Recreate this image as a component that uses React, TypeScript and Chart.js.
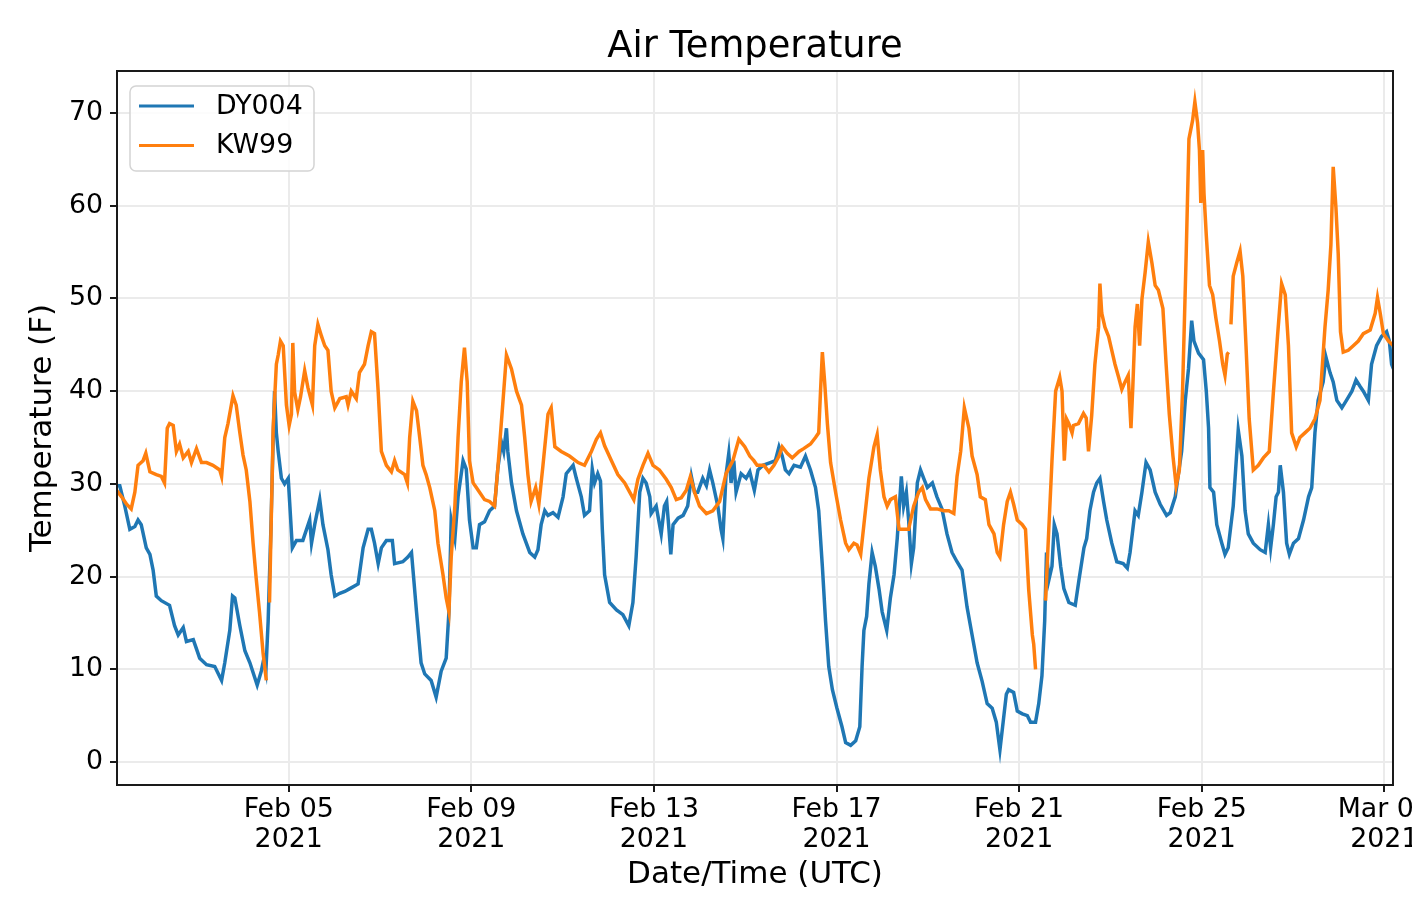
import React, { useEffect, useRef } from "react";
import { Chart, registerables } from "chart.js";

Chart.register(...registerables);

// ---------- data (days since 2021-02-01 00:00 UTC, temperature in °F) ----------
const chartTitle = "Air Temperature";
const xAxisTitle = "Date/Time (UTC)";
const yAxisTitle = "Temperature (F)";
const seriesNames = ["DY004", "KW99"];
const seriesColors = ["#1f77b4", "#ff7f0e"];

const dyDays = [
  0.23, 0.3, 0.41, 0.52, 0.63, 0.7, 0.77, 0.88, 0.96, 1.03, 1.1, 1.21, 1.39, 1.5, 1.58, 1.69, 1.76, 1.91, 2.05, 2.2,
  2.38, 2.53, 2.6, 2.71, 2.77, 2.82, 2.93, 3.04, 3.15, 3.31, 3.4, 3.45, 3.5, 3.55, 3.61, 3.66, 3.69, 3.73, 3.77, 3.84,
  3.91, 3.99, 4.02, 4.08, 4.17, 4.31, 4.46, 4.5, 4.57, 4.68, 4.75, 4.86, 4.93, 5.01, 5.12, 5.23, 5.34, 5.52, 5.63, 5.74,
  5.81, 5.88, 5.96, 6.03, 6.14, 6.27, 6.32, 6.5, 6.61, 6.69, 6.74, 6.8, 6.9, 6.98, 7.12, 7.23, 7.34, 7.45, 7.51, 7.56,
  7.64, 7.71, 7.82, 7.89, 7.96, 8.04, 8.11, 8.18, 8.29, 8.4, 8.51, 8.58, 8.66, 8.71, 8.77, 8.8, 8.88, 8.99, 9.13, 9.28,
  9.39, 9.46, 9.53, 9.61, 9.68, 9.79, 9.9, 10.01, 10.08, 10.23, 10.3, 10.41, 10.48, 10.59, 10.65, 10.7, 10.77, 10.83, 10.87, 10.92,
  11.03, 11.18, 11.32, 11.45, 11.54, 11.61, 11.69, 11.76, 11.83, 11.91, 11.94, 12.05, 12.16, 12.23, 12.28, 12.33, 12.37, 12.42, 12.53, 12.64,
  12.74, 12.82, 12.89, 12.96, 13.07, 13.15, 13.22, 13.29, 13.4, 13.47, 13.51, 13.58, 13.64, 13.69, 13.75, 13.8, 13.91, 14.02, 14.1, 14.2,
  14.28, 14.39, 14.55, 14.66, 14.74, 14.81, 14.88, 14.96, 15.07, 15.21, 15.32, 15.43, 15.54, 15.61, 15.69, 15.76, 15.83, 15.91, 16.01, 16.12,
  16.2, 16.31, 16.42, 16.51, 16.56, 16.6, 16.66, 16.71, 16.78, 16.85, 16.93, 17.0, 17.1, 17.18, 17.26, 17.33, 17.42, 17.47, 17.53, 17.58,
  17.64, 17.69, 17.77, 17.84, 17.91, 17.99, 18.1, 18.2, 18.31, 18.42, 18.53, 18.64, 18.75, 18.86, 18.97, 19.08, 19.19, 19.3, 19.41, 19.5,
  19.58, 19.65, 19.72, 19.77, 19.88, 19.96, 20.07, 20.18, 20.25, 20.36, 20.43, 20.5, 20.56, 20.6, 20.65, 20.72, 20.77, 20.83, 20.91, 20.98,
  21.09, 21.23, 21.31, 21.42, 21.48, 21.55, 21.63, 21.7, 21.77, 21.85, 21.92, 22.03, 22.14, 22.28, 22.37, 22.43, 22.54, 22.61, 22.69, 22.78,
  22.87, 22.98, 23.09, 23.23, 23.31, 23.42, 23.49, 23.56, 23.64, 23.71, 23.78, 23.83, 23.93, 24.04, 24.1, 24.15, 24.18, 24.26, 24.33, 24.44,
  24.51, 24.58, 24.69, 24.8, 24.88, 24.95, 25.02, 25.13, 25.28, 25.39, 25.46, 25.51, 25.57, 25.63, 25.68, 25.72, 25.79, 25.86, 25.92, 26.01,
  26.12, 26.23, 26.34, 26.41, 26.48, 26.55, 26.66, 26.72, 26.81, 26.88, 26.96, 27.07, 27.17, 27.29, 27.38, 27.47, 27.54, 27.65, 27.72, 27.83,
  27.94, 28.05, 28.11, 28.16, 28.2,
];
const dyTemps = [
  29.8, 29.8, 27.6, 25.1, 25.4, 26.1, 25.6, 23.1, 22.4, 20.7, 17.9, 17.4, 16.9, 14.7, 13.7, 14.5, 13.0, 13.2, 11.2, 10.5,
  10.3, 8.8, 10.7, 14.2, 17.9, 17.7, 14.7, 12.0, 10.7, 8.3, 9.8, 11.0, 9.8, 15.2, 25.1, 35.0, 40.0, 35.5, 33.5, 30.6,
  30.0, 30.6, 28.1, 23.1, 23.9, 23.9, 26.1, 23.6, 25.6, 28.3, 25.6, 22.9, 20.2, 17.9, 18.2, 18.4, 18.7, 19.2, 23.1, 25.1,
  25.1, 23.6, 21.4, 23.1, 23.9, 23.9, 21.4, 21.6, 22.1, 22.6, 19.7, 16.2, 10.7, 9.5, 8.8, 7.0, 9.8, 11.2, 16.2, 26.1,
  24.1, 28.6, 32.5, 31.6, 26.1, 23.1, 23.1, 25.6, 25.9, 27.1, 27.6, 31.6, 34.5, 33.5, 36.0, 33.5, 30.1, 27.1, 24.6, 22.6,
  22.1, 22.9, 25.6, 27.1, 26.6, 26.9, 26.4, 28.6, 31.1, 32.0, 30.6, 28.6, 26.6, 27.1, 31.6, 30.1, 31.1, 30.3, 25.1, 20.2,
  17.2, 16.4, 15.9, 14.7, 17.2, 22.1, 29.1, 30.6, 30.1, 28.6, 26.8, 27.6, 24.6, 27.6, 28.1, 25.1, 22.4, 25.6, 26.3, 26.6,
  27.6, 30.8, 29.1, 29.1, 30.6, 29.8, 31.5, 30.1, 27.6, 25.1, 24.1, 31.0, 33.3, 30.1, 32.5, 29.1, 31.1, 30.6, 31.3, 29.3,
  31.5, 32.0, 32.3, 32.5, 34.0, 33.0, 31.5, 31.1, 32.0, 31.8, 33.0, 31.5, 29.6, 27.1, 21.1, 15.2, 10.3, 7.8, 5.8, 3.8,
  2.1, 1.8, 2.3, 3.8, 10.3, 14.2, 15.7, 19.2, 22.6, 21.1, 18.7, 16.2, 14.2, 17.7, 20.2, 24.1, 30.8, 27.6, 29.1, 26.1,
  21.4, 23.1, 30.1, 31.5, 30.6, 29.6, 30.1, 28.6, 27.3, 24.6, 22.6, 21.6, 20.7, 16.7, 13.7, 10.7, 8.7, 6.3, 5.8, 4.3,
  1.3, 4.3, 7.3, 7.8, 7.5, 5.5, 5.2, 5.0, 4.3, 4.3, 6.3, 9.3, 15.2, 22.6, 19.6, 21.1, 25.6, 24.6, 21.1, 18.7,
  17.2, 16.9, 19.6, 23.1, 24.1, 27.1, 29.1, 30.1, 30.6, 28.1, 26.1, 23.6, 21.6, 21.4, 20.9, 22.6, 27.1, 26.6, 29.1, 32.3,
  31.5, 29.1, 27.8, 26.6, 26.9, 28.6, 31.1, 33.5, 39.0, 42.4, 47.6, 45.4, 44.1, 43.4, 40.0, 36.0, 29.6, 29.1, 25.6, 23.6,
  22.4, 23.1, 27.6, 35.8, 33.0, 27.1, 24.6, 23.6, 22.9, 22.6, 25.6, 23.1, 25.6, 28.6, 29.1, 32.0, 29.1, 23.6, 22.4, 23.6,
  24.1, 26.1, 28.6, 29.6, 35.5, 39.0, 41.0, 43.7, 42.0, 41.0, 39.0, 38.2, 39.0, 40.0, 41.2, 40.5, 40.0, 39.0, 42.9, 44.9,
  45.9, 46.4, 45.4, 42.9, 42.4,
];

const kwDays = [
  0.23, 0.34, 0.45, 0.55, 0.63, 0.7, 0.81, 0.87, 0.96, 1.1, 1.21, 1.28, 1.34, 1.39, 1.47, 1.54, 1.61, 1.69, 1.8, 1.87,
  1.98, 2.09, 2.2, 2.34, 2.49, 2.53, 2.6, 2.67, 2.78, 2.85, 2.93, 3.0, 3.07, 3.15, 3.22, 3.29, 3.36, 3.44, 3.51, 3.54,
  3.58, 3.66, 3.73, 3.77, 3.82, 3.88, 3.95, 4.01, 4.06, 4.09, 4.13, 4.2, 4.26, 4.35, 4.42, 4.52, 4.57, 4.64, 4.72, 4.79,
  4.86, 4.93, 5.01, 5.12, 5.26, 5.3, 5.37, 5.48, 5.55, 5.66, 5.74, 5.81, 5.88, 5.96, 6.03, 6.14, 6.25, 6.32, 6.39, 6.54,
  6.6, 6.65, 6.72, 6.8, 6.87, 6.94, 7.01, 7.09, 7.2, 7.27, 7.38, 7.45, 7.51, 7.56, 7.64, 7.71, 7.78, 7.85, 7.91, 7.96,
  8.04, 8.11, 8.18, 8.29, 8.4, 8.51, 8.58, 8.68, 8.77, 8.88, 8.99, 9.1, 9.17, 9.24, 9.31, 9.41, 9.48, 9.57, 9.68, 9.75,
  9.83, 9.97, 10.15, 10.34, 10.48, 10.63, 10.74, 10.83, 10.92, 11.07, 11.21, 11.36, 11.47, 11.56, 11.65, 11.76, 11.87, 11.98, 12.12, 12.27,
  12.38, 12.49, 12.6, 12.71, 12.8, 12.89, 13.0, 13.15, 13.29, 13.44, 13.58, 13.73, 13.86, 13.99, 14.1, 14.19, 14.26, 14.41, 14.52, 14.63,
  14.74, 14.81, 14.92, 15.03, 15.18, 15.28, 15.43, 15.54, 15.61, 15.65, 15.69, 15.74, 15.8, 15.87, 15.98, 16.09, 16.2, 16.27, 16.38, 16.45,
  16.53, 16.6, 16.71, 16.82, 16.89, 16.96, 17.04, 17.11, 17.18, 17.29, 17.37, 17.47, 17.58, 17.69, 17.8, 17.88, 17.95, 18.06, 18.2, 18.35,
  18.46, 18.57, 18.64, 18.72, 18.8, 18.9, 18.97, 19.08, 19.15, 19.26, 19.34, 19.45, 19.52, 19.58, 19.66, 19.74, 19.81, 19.88, 19.96, 20.07,
  20.14, 20.21, 20.29, 20.32, 20.36, 20.45, 20.58, 20.65, 20.72, 20.8, 20.89, 20.94, 20.99, 21.04, 21.09, 21.16, 21.19, 21.3, 21.41, 21.47,
  21.52, 21.59, 21.66, 21.74, 21.77, 21.81, 21.88, 21.96, 22.03, 22.1, 22.18, 22.25, 22.32, 22.39, 22.45, 22.49, 22.54, 22.59, 22.64, 22.69,
  22.76, 22.83, 22.91, 22.98, 23.05, 23.15, 23.22, 23.29, 23.37, 23.44, 23.51, 23.58, 23.66, 23.72, 23.8, 23.85, 23.91, 23.95, 23.98, 24.02,
  24.05, 24.1, 24.17, 24.24, 24.31, 24.39, 24.46, 24.51, 24.56, 24.59, 24.61, 24.64, 24.69, 24.77, 24.84, 24.9, 24.97, 25.04, 25.13, 25.24,
  25.35, 25.48, 25.57, 25.66, 25.75, 25.83, 25.9, 25.97, 26.07, 26.15, 26.26, 26.37, 26.48, 26.59, 26.7, 26.77, 26.83, 26.88, 26.94, 26.99,
  27.04, 27.1, 27.21, 27.32, 27.43, 27.54, 27.69, 27.8, 27.85, 27.91, 27.98, 28.09, 28.2,
];
const kwTemps: (number | null)[] = [
  29.3, 28.6, 27.8, 27.3, 29.1, 32.0, 32.5, 33.3, 31.3, 31.0, 30.8, 30.1, 36.0, 36.5, 36.3, 33.5, 34.3, 32.8, 33.5, 32.3,
  33.8, 32.3, 32.3, 32.0, 31.5, 30.8, 35.0, 36.5, 39.5, 38.5, 35.5, 33.1, 31.5, 28.1, 23.6, 19.7, 16.2, 11.7, 8.8, null,
  17.2, 36.0, 42.9, 43.9, 45.4, 44.9, 38.5, 36.3, 37.5, 45.2, 39.9, 38.0, 39.4, 42.2, 40.4, 38.5, 44.9, 47.2, 45.9, 44.9,
  44.4, 40.0, 38.2, 39.2, 39.4, 38.5, 40.0, 39.2, 42.0, 42.9, 44.9, 46.4, 46.2, 40.0, 33.5, 32.0, 31.3, 32.5, 31.5, 31.0,
  30.1, 35.0, 38.9, 37.9, 35.0, 32.0, 31.0, 29.6, 27.1, 23.6, 20.2, 17.7, 16.2, 22.1, 27.6, 35.0, 41.0, 44.7, 41.0, 32.5,
  30.1, 29.6, 29.1, 28.3, 28.1, 27.6, 31.6, 38.0, 43.9, 42.4, 40.0, 38.5, 35.0, 31.0, 28.1, 29.6, 27.8, 32.0, 37.5, 38.2,
  34.0, 33.5, 33.0, 32.3, 32.0, 33.5, 34.8, 35.5, 34.1, 32.5, 31.0, 30.1, 29.1, 28.3, 30.5, 32.0, 33.3, 32.0, 31.5, 30.5,
  29.6, 28.3, 28.5, 29.3, 30.8, 29.1, 27.6, 26.8, 27.1, 28.1, 31.1, 32.5, 34.8, 34.0, 33.0, 32.5, 32.0, 32.0, 31.3, 32.0,
  33.0, 34.0, 33.3, 32.8, 33.5, 33.8, 34.3, 35.0, 35.5, 40.0, 44.2, 41.0, 36.5, 32.3, 29.1, 26.1, 23.6, 22.9, 23.6, 23.4,
  22.4, 25.6, 30.6, 34.0, 35.3, 31.5, 28.6, 27.6, 28.3, 28.6, 25.1, 25.1, 25.1, 27.6, 29.1, 29.6, 28.3, 27.3, 27.3, 27.1,
  27.1, 26.8, 30.8, 33.5, 38.2, 36.0, 33.0, 31.0, 28.6, 28.3, 25.6, 24.6, 22.6, 22.1, 25.6, 28.1, 29.1, 27.8, 26.1, 25.6,
  25.1, 18.6, 13.7, 12.7, 10.0, null, 17.4, 25.1, 32.5, 40.0, 41.5, 40.0, 32.5, 37.0, 36.5, 35.5, 36.3, 36.5, 37.6, 37.1,
  33.5, 37.4, 42.9, 46.9, 51.6, 48.4, 46.9, 45.9, 44.4, 42.9, 41.5, 40.2, 41.0, 41.7, 36.0, 40.4, 46.9, 49.4, 44.9, 49.9,
  52.8, 56.1, 53.8, 51.4, 50.9, 48.9, 42.9, 37.5, 33.0, 29.8, 31.5, 40.0, 54.8, 67.2, 69.2, 71.2, 68.9, 66.0, 60.3, 66.0,
  61.3, 56.8, 51.4, 50.4, 47.9, 45.4, 42.9, 41.7, 44.0, 44.2, null, 47.2, 52.4, 53.9, 55.1, 52.4, 44.9, 37.0, 31.5, 32.0,
  32.8, 33.5, 39.9, 45.9, 51.6, 50.4, 44.9, 35.5, 34.0, 35.0, 35.5, 36.0, 37.0, 39.0, 46.9, 50.9, 55.8, 64.2, 59.8, 54.8,
  46.4, 44.2, 44.4, 44.9, 45.4, 46.2, 46.6, 48.4, 50.1, 48.4, 46.2, 45.4, 44.9,
];

const xTickDays = [4, 8, 12, 16, 20, 24, 28];
const xTickDates = ["Feb 05", "Feb 09", "Feb 13", "Feb 17", "Feb 21", "Feb 25", "Mar 01"];
const xTickYear = "2021";
const yTickValues = [0, 10, 20, 30, 40, 50, 60, 70];
const xRange = [0.239, 28.19];
const yRange = [-2.48, 74.53];

// ---------- styling ----------
const FONT = "'DejaVu Sans', 'Liberation Sans', sans-serif";
const GRID = "#ebebeb";
const INK = "#1a1a1a";
const TICK_SIZE = 26.8;
const LABEL_SIZE = 31;
const TITLE_SIZE = 36.8;

const framePlugin = {
  id: "frameTitleLegend",
  afterDraw(chart: any) {
    const { ctx, chartArea } = chart;
    const { left, top, right, bottom } = chartArea;
    ctx.save();
    // spines
    ctx.strokeStyle = INK;
    ctx.lineWidth = 2;
    ctx.strokeRect(left, top, right - left, bottom - top);

    // title
    ctx.fillStyle = "#000";
    ctx.font = `${TITLE_SIZE}px ${FONT}`;
    ctx.textAlign = "center";
    ctx.textBaseline = "alphabetic";
    ctx.fillText(chartTitle, (left + right) / 2, top - 14);

    // legend
    const bx = left + 13;
    const by = top + 15;
    const bw = 184;
    const bh = 85;
    ctx.beginPath();
    (ctx as any).roundRect(bx, by, bw, bh, 6);
    ctx.fillStyle = "rgba(255,255,255,0.85)";
    ctx.fill();
    ctx.strokeStyle = "#d4d4d4";
    ctx.lineWidth = 1.5;
    ctx.stroke();
    ctx.font = `${TICK_SIZE}px ${FONT}`;
    ctx.textAlign = "left";
    ctx.textBaseline = "middle";
    chart.data.datasets.forEach((ds: any, i: number) => {
      const y = by + 20 + i * 39.5;
      ctx.strokeStyle = ds.borderColor;
      ctx.lineWidth = 3;
      ctx.beginPath();
      ctx.moveTo(bx + 9, y);
      ctx.lineTo(bx + 64, y);
      ctx.stroke();
      ctx.fillStyle = "#000";
      ctx.fillText(ds.label, bx + 86, y + 1);
    });
    ctx.restore();
  },
};

function toPoints(days: number[], temps: (number | null)[]) {
  return days.map((d, i) => ({ x: d, y: temps[i] }));
}

export default function App() {
  const ref = useRef<HTMLCanvasElement>(null);

  useEffect(() => {
    document.body.style.margin = "0";
    const canvas = ref.current;
    if (!canvas) return;
    const chart = new Chart(canvas, {
      type: "line",
      data: {
        datasets: [
          {
            label: seriesNames[0],
            data: toPoints(dyDays, dyTemps) as any,
            borderColor: seriesColors[0],
            backgroundColor: seriesColors[0],
            borderWidth: 3.5,
            pointRadius: 0,
            tension: 0,
            spanGaps: false,
            order: 1,
          },
          {
            label: seriesNames[1],
            data: toPoints(kwDays, kwTemps) as any,
            borderColor: seriesColors[1],
            backgroundColor: seriesColors[1],
            borderWidth: 3.5,
            pointRadius: 0,
            tension: 0,
            spanGaps: false,
            order: 0,
          },
        ],
      },
      options: {
        animation: false,
        responsive: true,
        maintainAspectRatio: false,
        devicePixelRatio: 1,
        parsing: false as any,
        normalized: true,
        layout: { padding: { left: 0, right: 19, top: 71, bottom: 0 } },
        plugins: {
          legend: { display: false },
          title: { display: false },
          tooltip: { enabled: false },
        },
        scales: {
          x: {
            type: "linear",
            min: xRange[0],
            max: xRange[1],
            afterBuildTicks: (scale: any) => {
              scale.ticks = xTickDays.map((v) => ({ value: v }));
            },
            afterFit: (scale: any) => {
              scale.height = 129;
              scale.paddingLeft = 0;
              scale.paddingRight = 0;
            },
            ticks: {
              autoSkip: false,
              maxRotation: 0,
              minRotation: 0,
              padding: 3,
              color: "#000",
              font: { family: FONT, size: TICK_SIZE, lineHeight: "30px" },
              callback: (value: any) => {
                const i = xTickDays.indexOf(Number(value));
                return i >= 0 ? [xTickDates[i], xTickYear] : "";
              },
            },
            grid: {
              color: GRID,
              lineWidth: 2,
              drawTicks: true,
              tickLength: 7,
              tickColor: INK,
              tickWidth: 2,
            },
            border: { display: false },
            title: {
              display: true,
              text: xAxisTitle,
              color: "#000",
              font: { family: FONT, size: LABEL_SIZE, lineHeight: 1.2 },
              padding: { top: 0, bottom: 20 },
            },
          },
          y: {
            type: "linear",
            min: yRange[0],
            max: yRange[1],
            afterBuildTicks: (scale: any) => {
              scale.ticks = yTickValues.map((v) => ({ value: v }));
            },
            afterFit: (scale: any) => {
              scale.width = 117;
              scale.paddingTop = 0;
              scale.paddingBottom = 0;
            },
            ticks: {
              padding: 7,
              color: "#000",
              font: { family: FONT, size: TICK_SIZE },
              callback: (value: any) => String(value),
            },
            grid: {
              color: GRID,
              lineWidth: 2,
              drawTicks: true,
              tickLength: 7,
              tickColor: INK,
              tickWidth: 2,
            },
            border: { display: false },
            title: {
              display: true,
              text: yAxisTitle,
              color: "#000",
              font: { family: FONT, size: LABEL_SIZE, lineHeight: 1.2 },
              padding: { top: 24, bottom: 0 },
            },
          },
        },
      },
      plugins: [framePlugin],
    } as any);
    return () => chart.destroy();
  }, []);

  return (
    <div style={{ position: "relative", width: 1412, height: 914, overflow: "hidden", background: "#fff" }}>
      <canvas ref={ref} />
    </div>
  );
}
